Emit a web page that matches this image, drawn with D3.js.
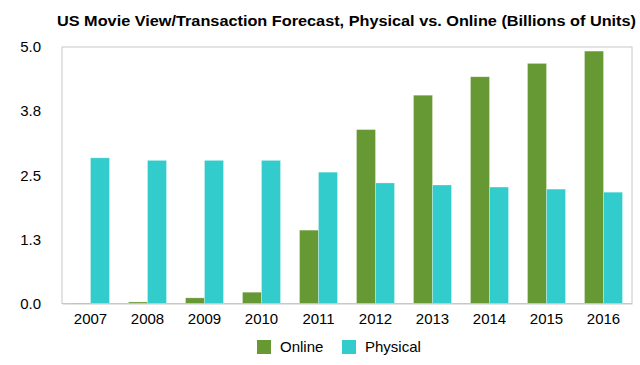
<!DOCTYPE html>
<html><head><meta charset="utf-8">
<script src="https://cdn.jsdelivr.net/npm/d3@7"></script>
<style>body{margin:0;background:#fff}svg{display:block;font-family:"Liberation Sans",Arial,sans-serif}</style>
</head><body><svg id="c" width="640" height="365"></svg>
<script>
const years = ["2007","2008","2009","2010","2011","2012","2013","2014","2015","2016"];
const online = [0.01,0.03,0.11,0.22,1.43,3.39,4.06,4.42,4.68,4.92];
const physical = [2.84,2.79,2.79,2.79,2.56,2.35,2.31,2.27,2.23,2.17];
const yTicks = [0,1.25,2.5,3.75,5];
const seriesNames = ["Online","Physical"];
const colors = ["#669933","#33CCCC"];

const svg = d3.select("#c");
const m = {l:62,r:632,t:47,b:303.5};
const x = d3.scaleBand().domain(years).range([m.l,m.r]).paddingInner(0).paddingOuter(0);
const y = d3.scaleLinear().domain([0,5]).range([m.b,m.t]);
const bw = x.bandwidth()/3;

svg.append("text").attr("x",346.5).attr("y",25.5).attr("text-anchor","middle")
  .attr("font-weight","bold").attr("font-size",14.5).attr("fill","#000")
  .attr("textLength",579).attr("lengthAdjust","spacingAndGlyphs")
  .text("US Movie View/Transaction Forecast, Physical vs. Online (Billions of Units)");

svg.append("rect").attr("x",m.l).attr("y",m.t).attr("width",m.r-m.l).attr("height",m.b-m.t)
  .attr("fill","none").attr("stroke","#c8c8c8").attr("stroke-width",1);

const data = [online, physical];
data.forEach((arr,si)=>{
  svg.append("g").selectAll("rect").data(arr).join("rect")
    .attr("x",(d,i)=>x(years[i])+x.bandwidth()/2 - bw + si*bw)
    .attr("y",d=>y(d)).attr("width",bw).attr("height",d=>y(0)-y(d))
    .attr("fill",colors[si]).attr("stroke","rgba(255,255,255,0.35)").attr("stroke-width",0.8);
});

const ya = svg.append("g").attr("transform",`translate(${m.l},0)`)
  .call(d3.axisLeft(y).tickValues(yTicks).tickSize(0).tickPadding(21).tickFormat(d3.format(".1f")));
ya.select(".domain").remove();
ya.selectAll("text").attr("font-size",15).attr("fill","#000").attr("font-family","Liberation Sans, Arial, sans-serif");

const xa = svg.append("g").attr("transform",`translate(0,${m.b})`)
  .call(d3.axisBottom(x).tickSize(0).tickPadding(10));
xa.select(".domain").attr("stroke","#c8c8c8");
xa.selectAll("text").attr("font-size",15).attr("fill","#000").attr("font-family","Liberation Sans, Arial, sans-serif");

const lg = svg.append("g");
const lx = [257,342];
seriesNames.forEach((n,i)=>{
  lg.append("rect").attr("x",lx[i]).attr("y",340).attr("width",14).attr("height",14).attr("fill",colors[i]);
  lg.append("text").attr("x",lx[i]+23).attr("y",352).attr("font-size",15).attr("fill","#000").text(n);
});
</script></body></html>
